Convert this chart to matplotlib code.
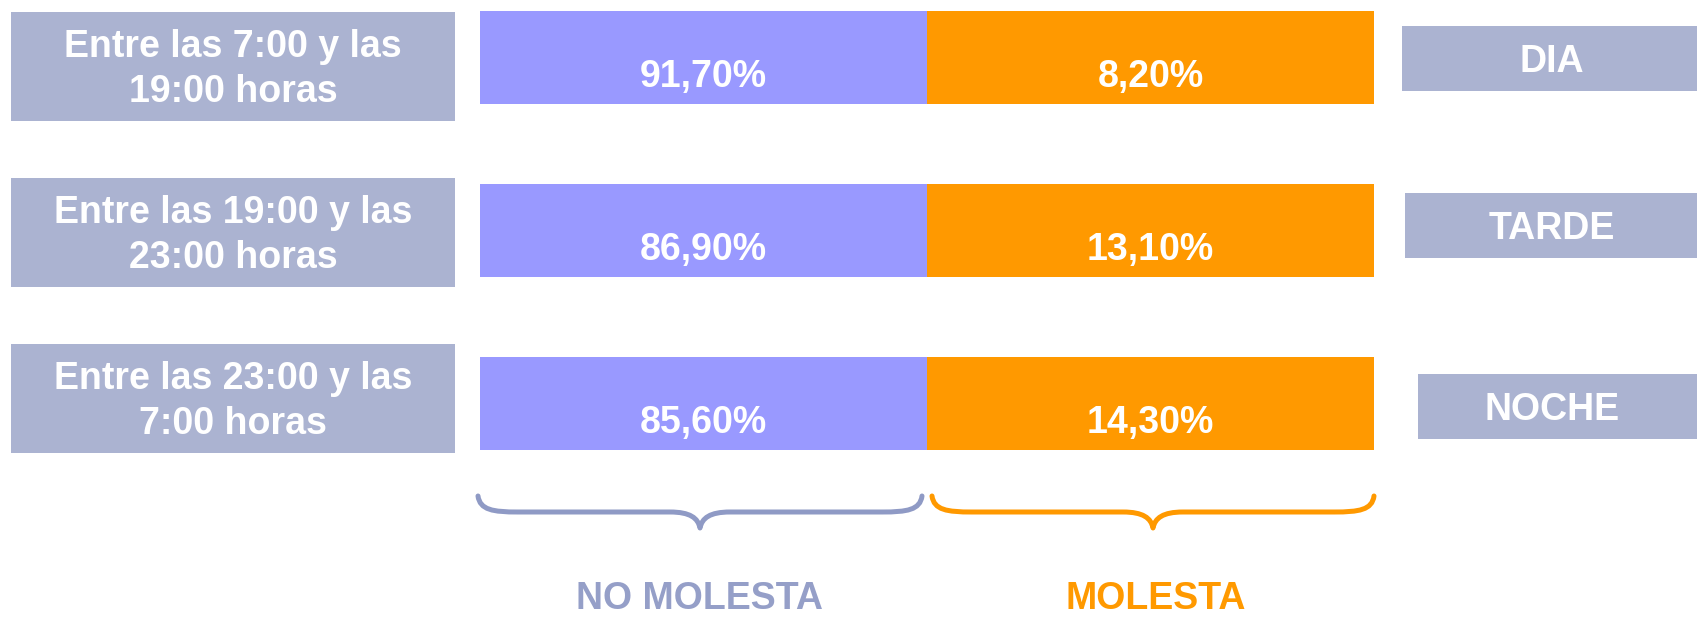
import matplotlib.pyplot as plt
from matplotlib.path import Path
from matplotlib.patches import PathPatch, Rectangle

# data
franjas = ["Entre las 7:00 y las\n19:00 horas",
           "Entre las 19:00 y las\n23:00 horas",
           "Entre las 23:00 y las\n7:00 horas"]
periodos = ["DIA", "TARDE", "NOCHE"]
no_molesta = [91.70, 86.90, 85.60]
molesta = [8.20, 13.10, 14.30]
grupos = ["NO MOLESTA", "MOLESTA"]

# layout (pixels)
W, H = 1697, 618
row_y = [57.5, 230.5, 403.5]
bar_h = 93
bar_x0, seg_w = 480, 447
left_box = [(11, 12), (11, 178), (11, 344)]
left_w, left_h = 444, 109
right_box = [(1402, 26), (1405, 193), (1418, 374)]
right_h = 65

BOX = '#abb3d1'
PURPLE = '#9999ff'
ORANGE = '#ff9900'
GREY = '#8f9ac5'
FONT = 'Liberation Sans'
FS = 27


def pct(v):
    return f"{v:.2f}".replace('.', ',') + "%"


def brace(ax, x0, x1, color, y_top=496, y_line=512, y_tip=528):
    xm = (x0 + x1) / 2
    verts = [(x0, y_top), (x0 + 2, y_line - 2), (x0 + 15, y_line), (x0 + 40, y_line),
             (xm - 30, y_line),
             (xm - 10, y_line), (xm - 2, y_line + 6), (xm, y_tip),
             (xm + 2, y_line + 6), (xm + 10, y_line), (xm + 30, y_line),
             (x1 - 40, y_line),
             (x1 - 15, y_line), (x1 - 2, y_line - 2), (x1, y_top)]
    codes = [Path.MOVETO, Path.CURVE4, Path.CURVE4, Path.CURVE4,
             Path.LINETO,
             Path.CURVE4, Path.CURVE4, Path.CURVE4,
             Path.CURVE4, Path.CURVE4, Path.CURVE4,
             Path.LINETO,
             Path.CURVE4, Path.CURVE4, Path.CURVE4]
    ax.add_patch(PathPatch(Path(verts, codes), fill=False, edgecolor=color,
                           lw=3.6, capstyle='round', joinstyle='round'))


fig = plt.figure(figsize=(W / 100, H / 100), dpi=100)
ax = fig.add_axes([0, 0, 1, 1])
ax.set_xlim(0, W)
ax.set_ylim(H, 0)
ax.axis('off')

# two equal cells per row
ax.barh(row_y, seg_w, left=bar_x0, height=bar_h, color=PURPLE)
ax.barh(row_y, seg_w, left=bar_x0 + seg_w, height=bar_h, color=ORANGE)

txt = dict(color='white', fontsize=FS, fontweight='bold', family=FONT,
           ha='center', va='baseline')
for i, y in enumerate(row_y):
    ax.text(bar_x0 + seg_w / 2, y + 29.5, pct(no_molesta[i]), **txt)
    ax.text(bar_x0 + 1.5 * seg_w, y + 29.5, pct(molesta[i]), **txt)

    bx, by = left_box[i]
    ax.add_patch(Rectangle((bx, by), left_w, left_h, color=BOX, lw=0))
    l1, l2 = franjas[i].split("\n")
    ax.text(bx + left_w / 2, by + 45, l1, **txt)
    ax.text(bx + left_w / 2, by + 90, l2, **txt)

    rx, ry = right_box[i]
    ax.add_patch(Rectangle((rx, ry), W - rx + 5, right_h, color=BOX, lw=0))
    ax.text(1552, ry + right_h / 2 + 13.5, periodos[i], **txt)

brace(ax, 478, 922, GREY)
brace(ax, 932, 1374, ORANGE)

ax.text(700, 617, grupos[0], color='#959fc8', fontsize=FS, fontweight='bold',
        family=FONT, ha='center', va='bottom')
ax.text(1156, 617, grupos[1], color=ORANGE, fontsize=FS, fontweight='bold',
        family=FONT, ha='center', va='bottom')

fig.savefig('out.png', dpi=100)
